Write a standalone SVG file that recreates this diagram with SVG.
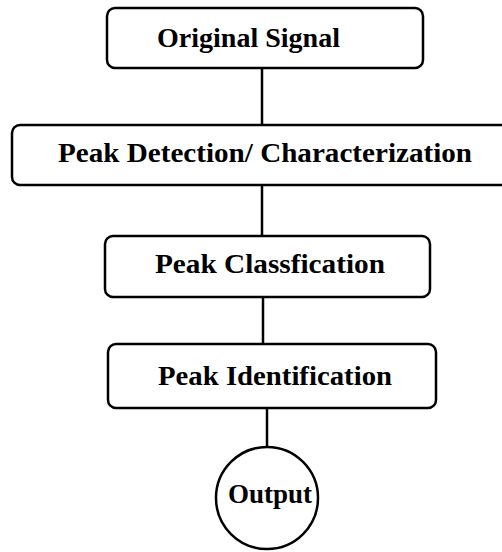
<svg xmlns="http://www.w3.org/2000/svg" width="502" height="552" viewBox="0 0 502 552">
<style>
.box{fill:#fff;stroke:#000;stroke-width:2.5}
.lbl{font-family:"Liberation Serif","Times New Roman",serif;font-weight:bold;font-size:28px;fill:#000}
.conn line{stroke:#000;stroke-width:2.5}
</style>
<rect width="502" height="552" fill="#fff"/>
<g class="conn">
<line x1="262" y1="68" x2="262" y2="125"/>
<line x1="262" y1="185" x2="262" y2="236"/>
<line x1="263" y1="297" x2="263" y2="344"/>
<line x1="267" y1="408" x2="267" y2="447"/>
</g>
<g id="original-signal">
<rect class="box" x="107" y="8" width="316" height="60" rx="8"/>
<text class="lbl" x="157" y="47" textLength="183" lengthAdjust="spacingAndGlyphs">Original Signal</text>
</g>
<g id="peak-detection">
<rect class="box" x="12" y="125" width="500" height="60" rx="8"/>
<text class="lbl" x="58" y="162" textLength="414" lengthAdjust="spacingAndGlyphs">Peak Detection/ Characterization</text>
</g>
<g id="peak-classification">
<rect class="box" x="105" y="236" width="325" height="61" rx="8"/>
<text class="lbl" x="155" y="273" textLength="230" lengthAdjust="spacingAndGlyphs">Peak Classfication</text>
</g>
<g id="peak-identification">
<rect class="box" x="108" y="344" width="328" height="64" rx="8"/>
<text class="lbl" x="158" y="385" textLength="234" lengthAdjust="spacingAndGlyphs">Peak Identification</text>
</g>
<g id="output">
<circle class="box" cx="267" cy="498" r="51"/>
<text class="lbl" x="228" y="503" textLength="84" lengthAdjust="spacingAndGlyphs">Output</text>
</g>
</svg>
